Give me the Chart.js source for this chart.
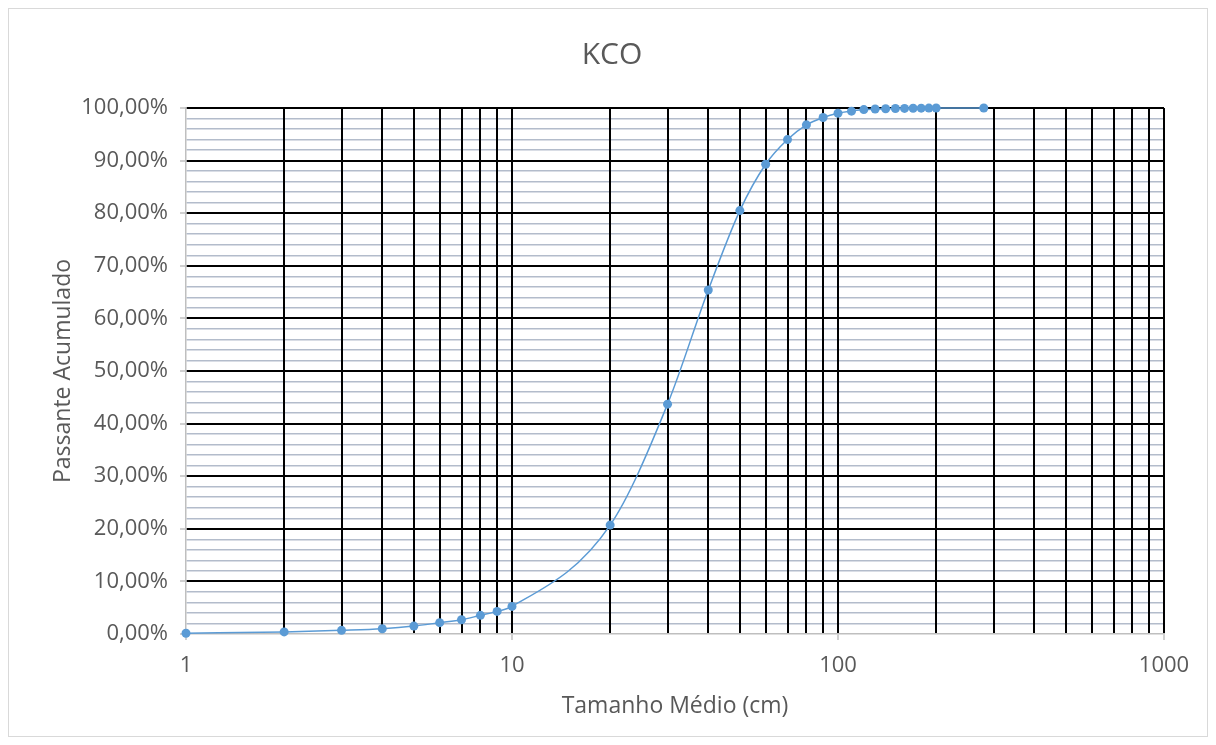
<!DOCTYPE html>
<html>
<head>
<meta charset="utf-8">
<script src="https://cdn.jsdelivr.net/npm/chart.js@4.4.1/dist/chart.umd.min.js"></script>
<style>
html,body{margin:0;padding:0;background:#fff;}
canvas{display:block;}
</style>
</head>
<body>
<canvas id="c" width="1216" height="745"></canvas>
<script>
// Data
const sizes = [1,2,3,4,5,6,7,8,9,10,20,30,40,50,60,70,80,90,100,110,120,130,140,150,160,170,180,190,200,280];
const passing = [0.15,0.4,0.7,1.0,1.5,2.15,2.7,3.55,4.3,5.25,20.7,43.7,65.4,80.5,89.3,94.0,96.8,98.2,99.0,99.4,99.7,99.8,99.85,99.9,99.92,99.95,99.97,99.98,100,100];
const xGridValues = [1,2,3,4,5,6,7,8,9,10,20,30,40,50,60,70,80,90,100,200,300,400,500,600,700,800,900,1000];
const xTickLabels = [1,10,100,1000];
const yTickLabels = [0,10,20,30,40,50,60,70,80,90,100];

const points = sizes.map((s,i)=>({x:s,y:passing[i]}));
const txt = '#595959';
const FONT = '"Open Sans", Lato, sans-serif';

const framePlugin = {
  id:'frame',
  beforeDraw(chart){
    const c = chart.ctx;
    c.save();
    c.fillStyle='#fff';
    c.fillRect(0,0,chart.width,chart.height);
    c.strokeStyle='#d9d9d9';
    c.lineWidth=1;
    c.strokeRect(8.5,8.5,1199,728);
    c.restore();
  }
};

new Chart(document.getElementById('c'),{
  type:'line',
  data:{datasets:[{
    data:points,
    borderColor:'#5b9bd5',
    backgroundColor:'#5b9bd5',
    borderWidth:1.5,
    pointRadius:4.5,
    pointBorderWidth:0,
    pointBackgroundColor:'#5b9bd5',
    cubicInterpolationMode:'monotone',
    clip:false,
    fill:false
  }]},
  options:{
    responsive:false,
    devicePixelRatio:1,
    animation:false,
    layout:{padding:{left:60,right:52,top:0,bottom:0}},
    plugins:{
      legend:{display:false},
      tooltip:{enabled:false},
      title:{display:true,text:'KCO',color:txt,font:{family:FONT,size:30,weight:'normal'},padding:{top:37,bottom:35}}
    },
    scales:{
      y:{
        type:'linear',min:0,max:100,
        afterFit(s){s.width=126;},
        ticks:{stepSize:2,autoSkip:false,color:txt,padding:12,font:{family:FONT,size:22},
          callback:(v)=> yTickLabels.includes(v) ? v.toFixed(2).replace('.',',')+'%' : ''},
        grid:{z:-2,
          color:(ctx)=>{const v=ctx.tick.value; if(v===0) return 'rgba(0,0,0,0)'; return v%10===0?'#000':'#b3bccb';},
          lineWidth:(ctx)=>{const v=ctx.tick.value; return v%10===0?2:1.5;},
          tickColor:(ctx)=> yTickLabels.includes(ctx.tick.value)?'#bfbfbf':'rgba(0,0,0,0)',
          tickLength:6,tickWidth:1.5},
        border:{color:'#bfbfbf',width:1.5},
        title:{display:true,text:'Passante Acumulado',color:txt,font:{family:FONT,size:23},padding:{top:-10.8,bottom:0}}
      },
      x:{
        type:'logarithmic',min:1,max:1000,
        afterFit(s){s.height=111;},
        afterBuildTicks(s){s.ticks = xGridValues.map(v=>({value:v}));},
        ticks:{autoSkip:false,maxRotation:0,minRotation:0,color:txt,padding:13,font:{family:FONT,size:22},
          callback:(v)=> xTickLabels.includes(v) ? String(v) : ''},
        grid:{z:-1,
          color:(ctx)=> ctx.tick.value===1?'rgba(0,0,0,0)':'#000',
          lineWidth:2,
          tickColor:(ctx)=> xTickLabels.includes(ctx.tick.value)?'#bfbfbf':'rgba(0,0,0,0)',
          tickLength:6,tickWidth:1.5},
        border:{color:'#bfbfbf',width:1.5},
        title:{display:true,text:'Tamanho Médio (cm)',color:txt,font:{family:FONT,size:23},padding:{top:0,bottom:25}}
      }
    }
  },
  plugins:[framePlugin]
});
</script>
</body>
</html>
